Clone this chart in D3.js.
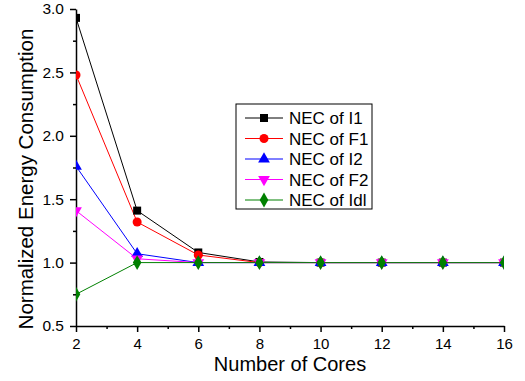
<!DOCTYPE html>
<html>
<head>
<meta charset="utf-8">
<script src="https://cdn.jsdelivr.net/npm/d3@7"></script>
<style>
body{margin:0;background:#fff;}
svg text{font-family:"Liberation Sans",Arial,sans-serif;fill:#000;}
</style>
</head>
<body>
<svg width="525" height="381"></svg>
<script>
const cores = [2, 4, 6, 8, 10, 12, 14, 16];
const necI1 = [2.93, 1.41, 1.08, 1.005, 1.0, 1.0, 1.0, 1.0];
const necF1 = [2.48, 1.32, 1.06, 1.0, 1.0, 1.0, 1.0, 1.0];
const necI2 = [1.76, 1.07, 1.0, 1.0, 1.0, 1.0, 1.0, 1.0];
const necF2 = [1.41, 1.03, 1.0, 1.0, 1.0, 1.0, 1.0, 1.0];
const necIdl = [0.75, 1.0, 1.0, 1.0, 1.0, 1.0, 1.0, 1.0];
const seriesNames = ["NEC of I1", "NEC of F1", "NEC of I2", "NEC of F2", "NEC of Idl"];
const yTicks = [0.5, 1.0, 1.5, 2.0, 2.5, 3.0];

const series = [
  {name: seriesNames[0], values: necI1, color: "#000000", symbol: d3.symbolSquare, rot: 0},
  {name: seriesNames[1], values: necF1, color: "#ff0000", symbol: d3.symbolCircle, rot: 0},
  {name: seriesNames[2], values: necI2, color: "#0000ff", symbol: d3.symbolTriangle, rot: 0},
  {name: seriesNames[3], values: necF2, color: "#ff00ff", symbol: d3.symbolTriangle, rot: 180},
  {name: seriesNames[4], values: necIdl, color: "#008000", symbol: d3.symbolDiamond, rot: 0}
];

const mLeft = 76, mRight = 504, mTop = 9, mBottom = 326;
const x = d3.scaleLinear().domain([2, 16]).range([mLeft, mRight]);
const y = d3.scaleLinear().domain([0.5, 3.0]).range([mBottom, mTop]);

const svg = d3.select("svg");

svg.append("clipPath").attr("id", "clip")
  .append("rect").attr("x", mLeft).attr("y", mTop - 2).attr("width", mRight - mLeft).attr("height", mBottom - mTop + 2);

// axes
const xAxis = svg.append("g").attr("transform", `translate(0,${mBottom})`)
  .call(d3.axisBottom(x).tickValues(cores).tickSize(6).tickSizeOuter(0).tickPadding(6))
  .attr("font-size", 15);
svg.append("g").attr("transform", `translate(0,${mBottom})`)
  .call(d3.axisBottom(x).tickValues(d3.range(3, 16, 2)).tickSize(3).tickFormat(""))
  .select(".domain").remove();
const yAxis = svg.append("g").attr("transform", `translate(${mLeft},0)`)
  .call(d3.axisLeft(y).tickValues(yTicks).tickFormat(d3.format(".1f")).tickSize(6).tickSizeOuter(0).tickPadding(6))
  .attr("font-size", 15.5);
svg.append("g").attr("transform", `translate(${mLeft},0)`)
  .call(d3.axisLeft(y).tickValues(d3.range(0.75, 3, 0.5)).tickSize(3).tickFormat(""))
  .select(".domain").remove();
svg.selectAll(".domain").attr("stroke", "#000").attr("stroke-width", 1.5);
svg.selectAll(".tick line").attr("stroke", "#000").attr("stroke-width", 1.5);

svg.append("text").attr("x", 290).attr("y", 371).attr("text-anchor", "middle")
  .attr("font-size", 20).text("Number of Cores");
svg.append("text").attr("transform", "translate(33,179) rotate(-90)").attr("text-anchor", "middle")
  .attr("font-size", 20.5).text("Normalized Energy Consumption");

// lines and markers
const plot = svg.append("g").attr("clip-path", "url(#clip)");
const line = d3.line().x((d, i) => x(cores[i])).y(d => y(d));
series.forEach(s => {
  plot.append("path").attr("d", line(s.values)).attr("fill", "none")
    .attr("stroke", s.color).attr("stroke-width", 1);
});
series.forEach(s => {
  plot.selectAll(null).data(s.values).enter().append("path")
    .attr("d", d3.symbol().type(s.symbol).size(s.symbol === d3.symbolTriangle ? 60 : 64))
    .attr("transform", (d, i) => `translate(${x(cores[i])},${y(d)}) rotate(${s.rot})`)
    .attr("fill", s.color);
});

// legend
const leg = svg.append("g");
leg.append("rect").attr("x", 236).attr("y", 104).attr("width", 136).attr("height", 105)
  .attr("fill", "#fff").attr("stroke", "#000").attr("stroke-width", 1);
series.forEach((s, i) => {
  const ly = 118 + i * 20.5;
  leg.append("line").attr("x1", 245).attr("x2", 283).attr("y1", ly).attr("y2", ly)
    .attr("stroke", s.color).attr("stroke-width", 1);
  leg.append("path").attr("d", d3.symbol().type(s.symbol).size(s.symbol === d3.symbolTriangle ? 60 : 64))
    .attr("transform", `translate(264,${ly}) rotate(${s.rot})`).attr("fill", s.color);
  leg.append("text").attr("x", 289).attr("y", ly + 6).attr("font-size", 17).text(s.name);
});
</script>
</body>
</html>
